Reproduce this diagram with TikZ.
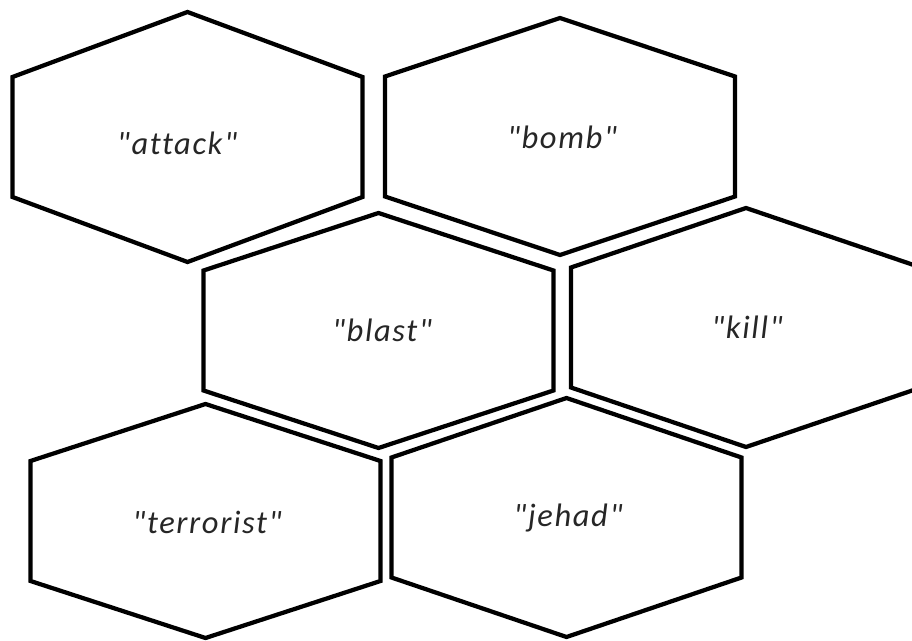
\documentclass[tikz,border=0pt]{standalone}
\usepackage{fontspec}
\newfontfamily\wordfont{Carlito}[LetterSpace=5, Ligatures=NoCommon]
\usetikzlibrary{calc}
\tikzset{
  cell/.style={draw=black, line width=0.085cm, line join=miter, fill=white},
  word/.style={font=\wordfont\itshape\fontsize{18.5}{22}\selectfont, text=black!85, inner sep=0pt},
}
% hexagon with pointy top and bottom: name, centre, half height
\newcommand{\hexcell}[3]{%
  \coordinate (#1) at #2;
  \draw[cell] ($(#1)+(0,-#3)$) -- ($(#1)+(175,-60)$) -- ($(#1)+(175,60)$)
    -- ($(#1)+(0,#3)$) -- ($(#1)+(-175,60)$) -- ($(#1)+(-175,-60)$) -- cycle;
}
\begin{document}
\begin{tikzpicture}[x=0.02cm,y=-0.02cm]
\useasboundingbox (0,0) rectangle (912,641);
\clip (0,0) rectangle (912,641);
\hexcell{attack}{(187.5,137)}{125}
\hexcell{bomb}{(560,136.5)}{118.5}
\hexcell{blast}{(378.5,330.5)}{117.5}
\hexcell{kill}{(746,327.5)}{119.5}
\hexcell{terror}{(205.5,521)}{117}
\hexcell{jehad}{(566.5,517.5)}{119.5}
\node[word] (attack-txt) at (177,143) {"attack"};
\node[word] (bomb-txt) at (562,137) {"bomb"};
\node[word] (blast-txt) at (382,330) {"blast"};
\node[word] (kill-txt) at (747,327) {"kill"};
\node[word] (terror-txt) at (207,522) {"terrorist"};
\node[word] (jehad-txt) at (568,518) {"jehad"};
\end{tikzpicture}
\end{document}
